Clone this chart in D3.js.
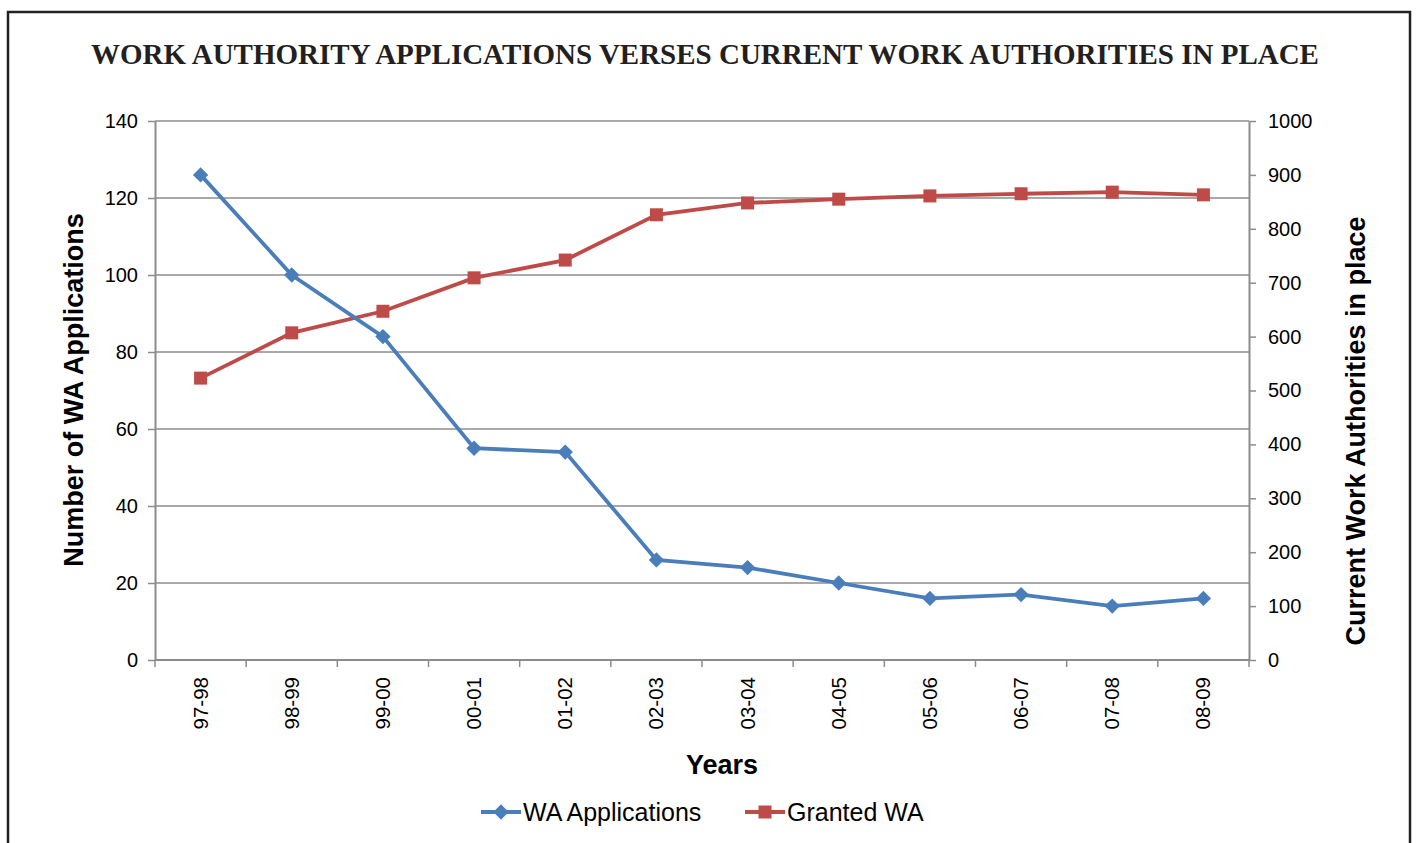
<!DOCTYPE html>
<html>
<head>
<meta charset="utf-8">
<script src="https://cdn.jsdelivr.net/npm/d3@7"></script>
<style>
  body { margin: 0; background: #fff; }
  svg { display: block; }
</style>
</head>
<body>
<svg id="chart" width="1416" height="843"></svg>
<script>
// data
const years = ["97-98", "98-99", "99-00", "00-01", "01-02", "02-03", "03-04", "04-05", "05-06", "06-07", "07-08", "08-09"];
const applications = [126, 100, 84, 55, 54, 26, 24, 20, 16, 17, 14, 16];
const granted = [523, 607, 647, 709, 742, 826, 848, 855, 861, 865, 868, 863];
const leftTicks = [0, 20, 40, 60, 80, 100, 120, 140];
const rightTicks = [0, 100, 200, 300, 400, 500, 600, 700, 800, 900, 1000];

const svg = d3.select("#chart");
const margin = { left: 155, right: 167, top: 121, bottom: 183 };
const width = 1416 - margin.left - margin.right;
const height = 843 - margin.top - margin.bottom;
const blue = "#4a7ebb", red = "#be4b48", grid = "#8c8c8c";

// outer frame
svg.append("rect")
  .attr("x", 8).attr("y", 12).attr("width", 1402).attr("height", 850)
  .attr("fill", "none").attr("stroke", "#222").attr("stroke-width", 2.5);

svg.append("text")
  .attr("x", 705).attr("y", 64)
  .attr("text-anchor", "middle")
  .style("font-family", "Liberation Serif, serif")
  .style("font-weight", "bold")
  .style("font-size", "29px")
  .style("fill", "#231f20")
  .text("WORK AUTHORITY APPLICATIONS VERSES CURRENT WORK AUTHORITIES IN PLACE");

const g = svg.append("g").attr("transform", "translate(" + margin.left + "," + margin.top + ")");

const x = d3.scaleBand().domain(years).range([0, width]);
const yL = d3.scaleLinear().domain([0, 140]).range([height, 0]);
const yR = d3.scaleLinear().domain([0, 1000]).range([height, 0]);

// gridlines
g.append("g").selectAll("line")
  .data(leftTicks.slice(1))
  .enter().append("line")
  .attr("x1", 0).attr("x2", width)
  .attr("y1", d => yL(d)).attr("y2", d => yL(d))
  .attr("stroke", grid).attr("stroke-width", 1.3);

const axisStyle = sel => {
  sel.selectAll("path, line").attr("stroke", grid).attr("stroke-width", 1.5);
  sel.select(".domain").attr("stroke-width", 2);
  sel.selectAll("text")
    .style("font-family", "Liberation Sans, Arial, sans-serif")
    .style("font-size", "20px").style("fill", "#000");
};

g.append("g")
  .call(d3.axisLeft(yL).tickValues(leftTicks).tickSize(7).tickSizeOuter(0).tickPadding(10))
  .call(axisStyle);

g.append("g").attr("transform", "translate(" + width + ",0)")
  .call(d3.axisRight(yR).tickValues(rightTicks).tickFormat(d3.format("d")).tickSize(7).tickSizeOuter(0).tickPadding(12))
  .call(axisStyle);

// x axis: ticks at band edges
const xAxis = g.append("g").attr("transform", "translate(0," + height + ")");
xAxis.append("line").attr("x1", 0).attr("x2", width).attr("stroke", grid).attr("stroke-width", 2);
xAxis.selectAll(".edge")
  .data(years.concat(["end"]))
  .enter().append("line")
  .attr("x1", (d, i) => i * x.step()).attr("x2", (d, i) => i * x.step())
  .attr("y1", 0).attr("y2", 7)
  .attr("stroke", grid).attr("stroke-width", 1.5);
xAxis.selectAll(".lbl")
  .data(years)
  .enter().append("text")
  .attr("transform", d => "translate(" + (x(d) + x.bandwidth() / 2 + 7) + ",17) rotate(-90)")
  .attr("text-anchor", "end")
  .style("font-family", "Liberation Sans, Arial, sans-serif")
  .style("font-size", "20.5px")
  .text(d => d);

// axis titles
const titleFont = sel => sel.style("font-family", "Liberation Sans, Arial, sans-serif")
  .style("font-weight", "bold").style("font-size", "27px").attr("text-anchor", "middle");
svg.append("text").attr("transform", "translate(83,390) rotate(-90)").call(titleFont).text("Number of WA Applications");
svg.append("text").attr("transform", "translate(1365,431) rotate(-90)").call(titleFont).text("Current Work Authorities in place");
svg.append("text").attr("x", 722).attr("y", 774).call(titleFont).text("Years");

// series
const cx = d => x(d) + x.bandwidth() / 2;
const lineL = d3.line().x((d, i) => cx(years[i])).y(d => yL(d));
const lineR = d3.line().x((d, i) => cx(years[i])).y(d => yR(d));

g.append("path").datum(granted).attr("d", lineR)
  .attr("fill", "none").attr("stroke", red).attr("stroke-width", 3.8);
g.selectAll(".sq").data(granted).enter().append("rect")
  .attr("x", (d, i) => cx(years[i]) - 6.5).attr("y", d => yR(d) - 6.5)
  .attr("width", 13).attr("height", 13).attr("fill", red);

g.append("path").datum(applications).attr("d", lineL)
  .attr("fill", "none").attr("stroke", blue).attr("stroke-width", 3.8);
const diamond = d3.symbol().type(d3.symbolDiamond2).size(150);
g.selectAll(".dm").data(applications).enter().append("path")
  .attr("d", diamond)
  .attr("transform", (d, i) => "translate(" + cx(years[i]) + "," + yL(d) + ")")
  .attr("fill", blue);

// legend
const legend = svg.append("g").attr("transform", "translate(0,812)");
const items = [
  { name: "WA Applications", color: blue, x: 481, shape: "diamond" },
  { name: "Granted WA", color: red, x: 745, shape: "square" }
];
items.forEach(it => {
  legend.append("line").attr("x1", it.x).attr("x2", it.x + 40)
    .attr("stroke", it.color).attr("stroke-width", 3.8);
  if (it.shape === "diamond") {
    legend.append("path").attr("d", diamond).attr("transform", "translate(" + (it.x + 20) + ",0)").attr("fill", it.color);
  } else {
    legend.append("rect").attr("x", it.x + 13.5).attr("y", -6.5).attr("width", 13).attr("height", 13).attr("fill", it.color);
  }
  legend.append("text").attr("x", it.x + 42).attr("y", 9)
    .style("font-family", "Liberation Sans, Arial, sans-serif")
    .style("font-size", "25px")
    .text(it.name);
});
</script>
</body>
</html>
